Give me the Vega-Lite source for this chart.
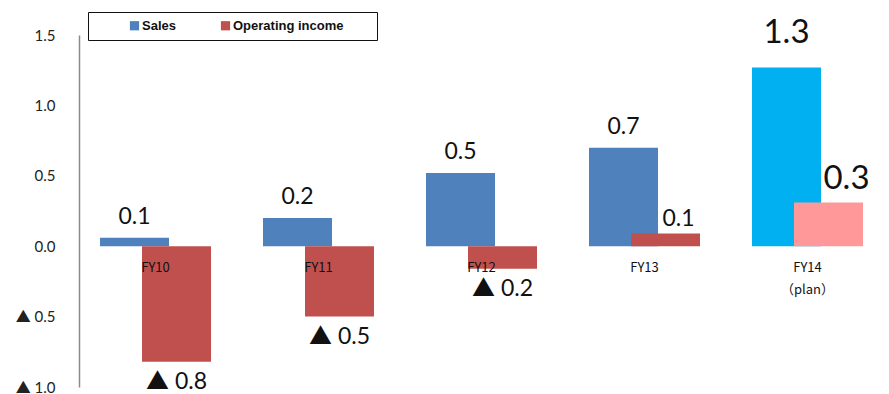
{
  "$schema": "https://vega.github.io/schema/vega-lite/v6.json",
  "autosize": {"type": "none"},
  "width": 815,
  "height": 352,
  "padding": {"left": 74, "top": 35, "right": 0, "bottom": 7},
  "background": "white",
  "config": {"view": {"stroke": null}},
  "data": {"values": [
    {"year": "FY10", "series": "Sales", "value": 0.06},
    {"year": "FY11", "series": "Sales", "value": 0.2},
    {"year": "FY12", "series": "Sales", "value": 0.52},
    {"year": "FY13", "series": "Sales", "value": 0.7},
    {"year": "FY14", "series": "Sales", "value": 1.27},
    {"year": "FY10", "series": "Operating income", "value": -0.82},
    {"year": "FY11", "series": "Operating income", "value": -0.5},
    {"year": "FY12", "series": "Operating income", "value": -0.16},
    {"year": "FY13", "series": "Operating income", "value": 0.09},
    {"year": "FY14", "series": "Operating income", "value": 0.31}
  ]},
  "transform": [
    {"calculate": "datum.value < 0 ? '▲ ' + format(-datum.value, '.1f') : format(datum.value, '.1f')", "as": "txt"}
  ],
  "encoding": {
    "x": {"field": "year", "type": "nominal", "scale": {"paddingInner": 0, "paddingOuter": 0}, "axis": null, "sort": null}
  },
  "layer": [
    {
      "transform": [{"filter": "datum.series === 'Sales'"}],
      "mark": {"type": "bar", "xOffset": -21, "width": 69},
      "encoding": {
        "y": {"field": "value", "type": "quantitative", "scale": {"domain": [-1, 1.5], "nice": false, "zero": false}, "axis": {
          "values": [-1, -0.5, 0, 0.5, 1, 1.5],
          "labelExpr": "datum.value < 0 ? '▲ ' + format(-datum.value, '.1f') : format(datum.value, '.1f')",
          "title": null, "grid": false, "ticks": false, "tickSize": 0, "offset": -5,
          "domainColor": "#8a8a8a", "domainWidth": 1.5,
          "labelFont": "Lato, 'Noto Sans CJK JP'", "labelFontSize": 15, "labelColor": "#222",
          "labelPadding": 24, "labelBound": false, "labelOverlap": false, "labelFlush": false
        }},
        "color": {
          "condition": {"test": "datum.year === 'FY14'", "value": "#00B0F0"},
          "field": "series", "type": "nominal",
          "scale": {"domain": ["Sales", "Operating income"], "range": ["#4F81BD", "#C0504D"]},
          "legend": {
            "orient": "none", "legendX": 14, "legendY": -23, "direction": "horizontal",
            "title": null, "strokeColor": "#111", "fillColor": "white",
            "padding": 7, "symbolType": "square", "symbolSize": 85, "symbolStrokeWidth": 0,
            "symbolOffset": 33, "columnPadding": 10, "labelOffset": 1,
            "labelFont": "Liberation Sans", "labelFontSize": 13, "labelFontWeight": "bold", "labelColor": "#111",
            "labelExpr": "datum.label === 'Operating income' ? datum.label + '\u2003\u2003\u200b' : datum.label"
          }
        }
      }
    },
    {
      "transform": [{"filter": "datum.series === 'Operating income'"}],
      "mark": {"type": "bar", "xOffset": 21, "width": 69},
      "encoding": {
        "y": {"field": "value", "type": "quantitative"},
        "color": {
          "condition": {"test": "datum.year === 'FY14'", "value": "#FF9999"},
          "field": "series", "type": "nominal"
        }
      }
    },
    {
      "mark": {"type": "rule", "color": "#8a8a8a", "strokeWidth": 1.5},
      "encoding": {"y": {"datum": 0, "type": "quantitative"}}
    },
    {
      "transform": [{"filter": "datum.series === 'Sales' && datum.year !== 'FY14'"}],
      "mark": {"type": "text", "xOffset": -21, "baseline": "alphabetic", "dy": -14, "font": "Lato", "fontSize": 23, "color": "#111"},
      "encoding": {
        "y": {"field": "value", "type": "quantitative"},
        "text": {"field": "txt"}
      }
    },
    {
      "transform": [{"filter": "datum.series === 'Sales' && datum.year === 'FY14'"}],
      "mark": {"type": "text", "xOffset": -21, "baseline": "alphabetic", "dy": -24, "font": "Lato", "fontSize": 33, "color": "#111"},
      "encoding": {
        "y": {"field": "value", "type": "quantitative"},
        "text": {"field": "txt"}
      }
    },
    {
      "transform": [{"filter": "datum.series === 'Operating income' && datum.value >= 0 && datum.year !== 'FY14'"}],
      "mark": {"type": "text", "xOffset": 34, "baseline": "alphabetic", "dy": -8, "font": "Lato", "fontSize": 23, "color": "#111"},
      "encoding": {
        "y": {"field": "value", "type": "quantitative"},
        "text": {"field": "txt"}
      }
    },
    {
      "transform": [{"filter": "datum.series === 'Operating income' && datum.year === 'FY14'"}],
      "mark": {"type": "text", "xOffset": 39, "baseline": "alphabetic", "dy": -14, "font": "Lato", "fontSize": 33, "color": "#111"},
      "encoding": {
        "y": {"field": "value", "type": "quantitative"},
        "text": {"field": "txt"}
      }
    },
    {
      "transform": [{"filter": "datum.series === 'Operating income' && datum.value < 0"}],
      "mark": {"type": "text", "xOffset": 21, "baseline": "top", "dy": 9, "font": "Lato, 'Noto Sans CJK JP'", "fontSize": 23, "color": "#111"},
      "encoding": {
        "y": {"field": "value", "type": "quantitative"},
        "text": {"field": "txt"}
      }
    },
    {
      "transform": [
        {"filter": "datum.series === 'Sales'"},
        {"calculate": "datum.year === 'FY14' ? ['FY14', '（plan）'] : datum.year", "as": "cat"}
      ],
      "mark": {"type": "text", "baseline": "top", "dy": 16, "font": "Noto Sans CJK JP", "fontSize": 13, "lineHeight": 22, "color": "#111"},
      "encoding": {
        "y": {"datum": 0, "type": "quantitative"},
        "text": {"field": "cat"}
      }
    }
  ]
}
